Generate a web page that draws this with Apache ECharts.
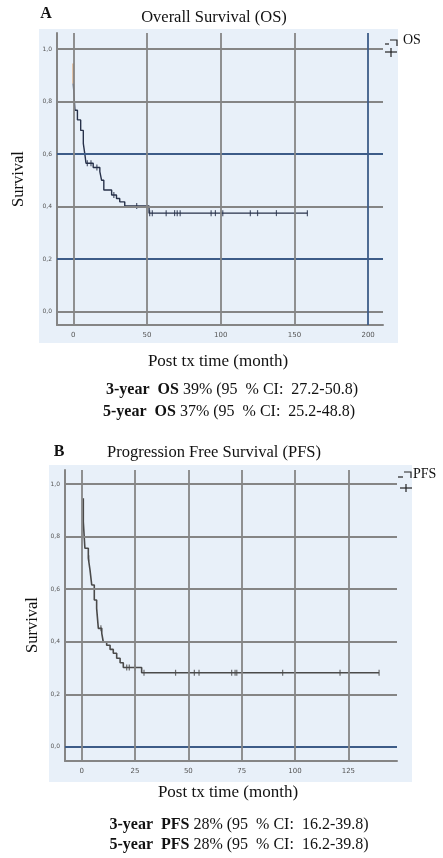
<!DOCTYPE html>
<html>
<head>
<meta charset="utf-8">
<script src="https://cdn.jsdelivr.net/npm/echarts@6/dist/echarts.min.js"></script>
<style>
  html, body { margin: 0; padding: 0; background: #ffffff; }
  #km { width: 443px; height: 858px; }
</style>
</head>
<body>
<div id="km"></div>
<script>
// --- data ---
// OS: time (months) where survival steps down, and survival after the step
var osTime = [0, 0, 1.1, 2.8, 5.0, 6.8, 7.9, 8.6, 13.5, 18, 19.2, 20.7, 26, 29.3, 31.5, 34.9, 51.4, 158.8];
var osSurv = [0.945, 0.869, 0.767, 0.73, 0.69, 0.64, 0.597, 0.565, 0.549, 0.533, 0.5, 0.463, 0.444, 0.431, 0.418, 0.402, 0.375, 0.375];
var osCensor = [9.5, 12, 16, 27.5, 43, 51.8, 53.6, 63, 68.7, 70.5, 72.5, 93.5, 96.4, 101.4, 120.1, 125, 137.8, 158.8];

// PFS
var pfsTime = [0.75, 0.75, 1.5, 3.1, 3.9, 4.7, 5.9, 7.0, 7.8, 9.4, 10.1, 11.7, 13.3, 14.8, 16.4, 18.0, 19.5, 28.1, 139.4];
var pfsSurv = [0.946, 0.857, 0.756, 0.718, 0.673, 0.616, 0.559, 0.527, 0.451, 0.432, 0.40, 0.387, 0.371, 0.356, 0.337, 0.32, 0.302, 0.282, 0.282];
var pfsCensor = [3.3, 9, 21.1, 22.3, 25, 29.2, 44, 52.8, 55, 70.3, 71.9, 72.7, 94.2, 121.1, 139.4];

// tick labels
var survTicks = [0, 0.2, 0.4, 0.6, 0.8, 1.0];
var osTicks = [0, 50, 100, 150, 200];
var pfsTicks = [0, 25, 50, 75, 100, 125];

// summary lines under each plot
var osNotes = [
  ["3-year  OS", " 39% (95  % CI:  27.2-50.8)"],
  ["5-year  OS", " 37% (95  % CI:  25.2-48.8)"]
];
var pfsNotes = [
  ["3-year  PFS", " 28% (95  % CI:  16.2-39.8)"],
  ["5-year  PFS", " 28% (95  % CI:  16.2-39.8)"]
];

var SERIF = "'Liberation Serif', 'DejaVu Serif', serif";
var GRAY = "#858585";
var BLUE = "#3d5c88";

function pairs(xs, ys) {
  var out = [];
  for (var i = 0; i < xs.length; i++) out.push([xs[i], ys[i]]);
  return out;
}
// survival value of a step curve at time t (for placing censor marks)
function survAt(times, survs, t) {
  var s = survs[0];
  for (var i = 0; i < times.length; i++) {
    if (times[i] <= t) s = survs[i];
  }
  return s;
}
function censorPts(cens, times, survs) {
  return cens.map(function (t) { return [t, survAt(times, survs, t)]; });
}
function gridLines(hVals, vVals, blueH, blueV) {
  var d = [];
  hVals.forEach(function (v) {
    d.push({ yAxis: v, lineStyle: { color: blueH.indexOf(v) >= 0 ? BLUE : GRAY } });
  });
  vVals.forEach(function (v) {
    d.push({ xAxis: v, lineStyle: { color: blueV.indexOf(v) >= 0 ? BLUE : GRAY } });
  });
  return d;
}
function commaFmt(v) {
  return v.toFixed(1).replace(".", ",");
}

var chart = echarts.init(document.getElementById("km"));

function xAxisCfg(gridIndex, min, max, ticks) {
  return {
    type: "value", gridIndex: gridIndex, min: min, max: max,
    axisLine: { show: true, onZero: false, lineStyle: { color: GRAY, width: 2 } },
    axisTick: { show: false },
    splitLine: { show: false },
    axisLabel: {
      customValues: ticks, fontSize: 7, color: "#555", margin: 7,
      fontFamily: "'DejaVu Sans', sans-serif"
    }
  };
}
function yAxisCfg(gridIndex, min, max) {
  return {
    type: "value", gridIndex: gridIndex, min: min, max: max,
    axisLine: { show: true, onZero: false, lineStyle: { color: GRAY, width: 2 } },
    axisTick: { show: false },
    splitLine: { show: false },
    axisLabel: {
      customValues: survTicks, fontSize: 6, color: "#555", margin: 5,
      formatter: commaFmt, fontFamily: "'DejaVu Sans', sans-serif"
    }
  };
}
function markCarrier(xi, yi, data) {
  return {
    type: "line", xAxisIndex: xi, yAxisIndex: yi, data: [], z: 1, silent: true,
    markLine: {
      silent: true, symbol: ["none", "none"], label: { show: false },
      lineStyle: { type: "solid", width: 1.8 }, animation: false, data: data
    }
  };
}
function noteText(x, y, parts) {
  return {
    type: "text", x: x, y: y,
    style: {
      text: "{b|" + parts[0] + "}{r|" + parts[1] + "}",
      fill: "#111", align: "center", verticalAlign: "middle",
      rich: {
        b: { fontWeight: "bold", fontSize: 16, fontFamily: SERIF, fill: "#111" },
        r: { fontWeight: "normal", fontSize: 16, fontFamily: SERIF, fill: "#111" }
      }
    }
  };
}
function label(x, y, txt, size, bold, rot) {
  return {
    type: "text", x: x, y: y, rotation: rot || 0,
    style: {
      text: txt, fontSize: size, fontFamily: SERIF, fontWeight: bold ? "bold" : "normal",
      fill: "#111", align: "center", verticalAlign: "middle"
    }
  };
}
function stroke(points) {
  return {
    type: "polyline", shape: { points: points },
    style: { stroke: "#222", lineWidth: 1.2, fill: null }
  };
}

var option = {
  animation: false,
  backgroundColor: "#ffffff",
  grid: [
    { left: 57, top: 33, width: 326, height: 292 },
    { left: 65, top: 470, width: 332, height: 291 }
  ],
  xAxis: [
    xAxisCfg(0, -11.06, 210.1, osTicks),
    xAxisCfg(1, -7.83, 147.8, pfsTicks)
  ],
  yAxis: [
    yAxisCfg(0, -0.051, 1.061),
    yAxisCfg(1, -0.054, 1.054)
  ],
  graphic: [
    { type: "rect", z: -10, shape: { x: 39, y: 29, width: 359, height: 314 }, style: { fill: "#e8f0f9" } },
    { type: "rect", z: -10, shape: { x: 49, y: 465, width: 363, height: 317 }, style: { fill: "#e8f0f9" } },
    label(46, 14, "A", 16, true),
    label(214, 18, "Overall Survival (OS)", 16.5),
    label(19, 179, "Survival", 16.5, false, Math.PI / 2),
    label(218, 362, "Post tx time (month)", 17),
    noteText(232, 390, osNotes[0]),
    noteText(229, 412, osNotes[1]),
    { type: "text", x: 403, y: 40, style: { text: "OS", fontSize: 14, fontFamily: SERIF, fill: "#111", verticalAlign: "middle" } },
    stroke([[385, 44], [389, 44]]),
    stroke([[390, 40], [397, 40], [397, 46]]),
    stroke([[385, 52], [397, 52]]),
    stroke([[391, 48], [391, 57]]),

    label(59, 452, "B", 16, true),
    label(214, 453, "Progression Free Survival (PFS)", 16.5),
    label(33, 625, "Survival", 16.5, false, Math.PI / 2),
    label(228, 793, "Post tx time (month)", 17),
    noteText(239, 825, pfsNotes[0]),
    noteText(239, 845, pfsNotes[1]),
    { type: "text", x: 413, y: 474, style: { text: "PFS", fontSize: 14, fontFamily: SERIF, fill: "#111", verticalAlign: "middle" } },
    stroke([[398, 477], [403, 477]]),
    stroke([[404, 472], [411, 472], [411, 478]]),
    stroke([[400, 488], [412, 488]]),
    stroke([[406, 484], [406, 492]])
  ],
  series: [
    markCarrier(0, 0, gridLines(survTicks, osTicks, [0.2, 0.6], [200])),
    markCarrier(1, 1, gridLines(survTicks, pfsTicks, [0], [])),
    {
      name: "OS start", type: "line", xAxisIndex: 0, yAxisIndex: 0, z: 4,
      data: pairs(osTime.slice(0, 2), osSurv.slice(0, 2)), step: "end",
      showSymbol: false, lineStyle: { color: "#d9955a", width: 1.6 }
    },
    {
      name: "OS", type: "line", xAxisIndex: 0, yAxisIndex: 0, z: 3,
      data: pairs(osTime.slice(1), osSurv.slice(1)), step: "end",
      showSymbol: false, lineStyle: { color: "#27314a", width: 1.4 }
    },
    {
      name: "OS censored", type: "scatter", xAxisIndex: 0, yAxisIndex: 0, z: 3,
      data: censorPts(osCensor, osTime, osSurv),
      symbol: "rect", symbolSize: [1.2, 6], itemStyle: { color: "#27314a" }
    },
    {
      name: "PFS", type: "line", xAxisIndex: 1, yAxisIndex: 1, z: 3,
      data: pairs(pfsTime, pfsSurv), step: "end",
      showSymbol: false, lineStyle: { color: "#4a4a4a", width: 1.6 }
    },
    {
      name: "PFS censored", type: "scatter", xAxisIndex: 1, yAxisIndex: 1, z: 3,
      data: censorPts(pfsCensor, pfsTime, pfsSurv),
      symbol: "rect", symbolSize: [1.2, 6], itemStyle: { color: "#4a4a4a" }
    }
  ]
};
chart.setOption(option);
</script>
</body>
</html>
